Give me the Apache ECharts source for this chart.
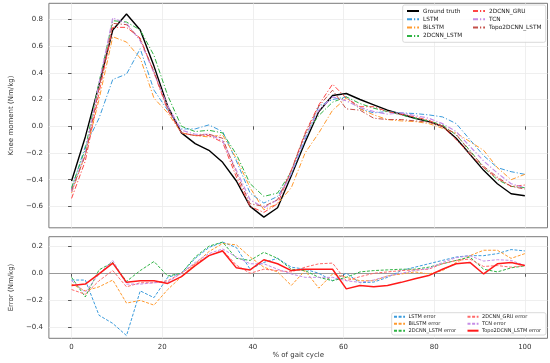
<!DOCTYPE html>
<html><head><meta charset="utf-8">
<script src="https://cdn.jsdelivr.net/npm/echarts@6/dist/echarts.min.js"></script>
<style>html,body{margin:0;padding:0;background:#fff}#c{width:550px;height:363px}</style>
</head><body><div id="c"></div>
<script>
// % of gait cycle (34 samples)
const gaitX = [0, 3.03, 6.06, 9.09, 12.12, 15.15, 18.18, 21.21, 24.24, 27.27, 30.3, 33.33, 36.36, 39.39, 42.42, 45.45, 48.48, 51.52, 54.55, 57.58, 60.61, 63.64, 66.67, 69.7, 72.73, 75.76, 78.79, 81.82, 84.85, 87.88, 90.91, 93.94, 96.97, 100];

// Knee moment (Nm/kg)
const groundTruth = [-0.41, -0.08, 0.31, 0.72, 0.84, 0.72, 0.45, 0.15, -0.05, -0.13, -0.18, -0.27, -0.41, -0.60, -0.68, -0.61, -0.37, -0.12, 0.11, 0.23, 0.245, 0.20, 0.16, 0.12, 0.09, 0.06, 0.035, 0.00, -0.09, -0.21, -0.33, -0.43, -0.505, -0.52];
const lstm = [-0.47, -0.15, 0.06, 0.35, 0.39, 0.58, 0.27, 0.12, -0.02, -0.02, 0.01, -0.04, -0.26, -0.50, -0.575, -0.525, -0.36, -0.10, 0.15, 0.20, 0.22, 0.13, 0.10, 0.11, 0.10, 0.095, 0.085, 0.07, 0.02, -0.10, -0.22, -0.31, -0.34, -0.36];
const bilstm = [-0.50, -0.21, 0.20, 0.67, 0.63, 0.51, 0.21, 0.10, -0.05, -0.07, -0.08, -0.065, -0.24, -0.46, -0.625, -0.58, -0.46, -0.20, -0.05, 0.12, 0.21, 0.13, 0.085, 0.05, 0.04, 0.035, 0.02, -0.015, -0.05, -0.115, -0.18, -0.31, -0.40, -0.36];
const cnnLstm = [-0.46, -0.17, 0.33, 0.79, 0.78, 0.72, 0.53, 0.23, 0.0, -0.04, -0.03, -0.05, -0.21, -0.43, -0.525, -0.50, -0.34, -0.06, 0.08, 0.18, 0.22, 0.17, 0.135, 0.11, 0.085, 0.06, 0.04, 0.01, -0.065, -0.18, -0.31, -0.40, -0.45, -0.46];
const cnnGru = [-0.54, -0.26, 0.25, 0.74, 0.74, 0.66, 0.40, 0.12, -0.05, -0.07, -0.07, -0.12, -0.38, -0.60, -0.645, -0.58, -0.33, -0.05, 0.16, 0.315, 0.21, 0.146, 0.146, 0.11, 0.09, 0.07, 0.045, 0.0, -0.10, -0.21, -0.31, -0.39, -0.45, -0.44];
const tcn = [-0.49, -0.20, 0.32, 0.81, 0.77, 0.64, 0.40, 0.15, -0.03, -0.06, -0.06, -0.11, -0.33, -0.55, -0.61, -0.55, -0.35, -0.08, 0.12, 0.22, 0.19, 0.14, 0.11, 0.09, 0.10, 0.08, 0.06, 0.02, -0.04, -0.15, -0.26, -0.35, -0.43, -0.46];
const topo = [-0.48, -0.22, 0.28, 0.77, 0.76, 0.65, 0.41, 0.13, -0.05, -0.07, -0.06, -0.09, -0.35, -0.58, -0.60, -0.55, -0.33, -0.06, 0.15, 0.27, 0.13, 0.12, 0.06, 0.05, 0.05, 0.04, 0.03, 0.00, -0.06, -0.19, -0.30, -0.38, -0.45, -0.47];

// Error (Nm/kg)
const lstmErr = [-0.05, -0.05, -0.31, -0.37, -0.46, -0.13, -0.18, -0.03, 0.0, 0.11, 0.19, 0.23, 0.19, 0.03, 0.08, 0.11, 0.045, 0.03, 0.0, -0.055, 0.0, -0.07, -0.065, -0.03, 0.02, 0.045, 0.07, 0.095, 0.12, 0.13, 0.13, 0.145, 0.175, 0.165];
const bilstmErr = [-0.08, -0.13, -0.10, -0.05, -0.22, -0.20, -0.235, -0.12, -0.025, 0.07, 0.16, 0.22, 0.21, 0.12, 0.045, 0.01, -0.09, 0.02, -0.11, -0.005, -0.03, -0.055, -0.055, -0.02, -0.005, 0.01, -0.005, 0.02, 0.08, 0.13, 0.17, 0.17, 0.11, 0.145];
const cnnLstmErr = [-0.03, -0.175, 0.025, 0.08, -0.06, 0.02, 0.087, -0.02, 0.0, 0.12, 0.2, 0.23, 0.11, 0.095, 0.155, 0.11, 0.03, 0.02, -0.03, -0.055, -0.03, 0.01, 0.02, 0.025, 0.03, 0.03, 0.045, 0.07, 0.095, 0.12, 0.03, 0.01, 0.04, 0.055];
const cnnGruErr = [-0.12, -0.155, -0.055, 0.02, -0.10, -0.07, -0.07, -0.055, 0.0, 0.07, 0.13, 0.17, 0.06, 0.0, 0.03, 0.02, 0.01, 0.045, 0.07, 0.075, -0.055, -0.025, 0.0, 0.01, 0.02, 0.025, 0.03, 0.07, 0.095, 0.105, 0.05, 0.057, 0.045, 0.057];
const tcnErr = [-0.055, -0.14, -0.005, 0.095, -0.08, -0.08, -0.07, -0.065, 0.0, 0.08, 0.145, 0.18, 0.12, 0.07, 0.07, 0.03, -0.005, -0.03, -0.03, -0.03, -0.055, -0.067, -0.05, -0.02, 0.0, 0.02, 0.035, 0.08, 0.115, 0.13, 0.09, 0.1, 0.095, 0.057];
const topoErr = [-0.09, -0.08, -0.005, 0.075, -0.067, -0.055, -0.055, -0.075, -0.025, 0.057, 0.13, 0.165, 0.04, 0.025, 0.1, 0.07, 0.02, 0.03, 0.03, 0.03, -0.115, -0.09, -0.1, -0.09, -0.067, -0.04, -0.017, 0.03, 0.07, 0.08, -0.005, 0.07, 0.08, 0.057];

// Tick labels
const xTicks = [0, 20, 40, 60, 80, 100];
const yTicksTop = [-0.6, -0.4, -0.2, 0.0, 0.2, 0.4, 0.6, 0.8];
const yTicksBottom = [-0.4, -0.2, 0.0, 0.2];

const FONT = 'DejaVu Sans';
const pair = (ys) => gaitX.map((x, i) => [x, ys[i]]);
const fmt1 = v => (v < 0 ? '\u2212' : '') + Math.abs(v).toFixed(1);
const DASHDOT = [5, 2, 1.2, 2];
const DASH = [3, 1.6];

function predSeries(name, data, color, width) {
  return { name, type: 'line', xAxisIndex: 0, yAxisIndex: 0, data: pair(data), symbol: 'none',
    lineStyle: { color, width: width || 1, type: DASHDOT }, itemStyle: { color }, z: 3 };
}
function errSeries(name, data, color, solid) {
  return { name, type: 'line', xAxisIndex: 1, yAxisIndex: 1, data: pair(data), symbol: 'none',
    lineStyle: { color, width: solid ? 1.5 : 1, type: solid ? 'solid' : DASH }, itemStyle: { color }, z: solid ? 4 : 3 };
}

const C = { lstm: '#3a9bdc', bilstm: '#ff9a2e', cnnLstm: '#2fb344', cnnGru: '#ff4545', tcn: '#c58ce6', topo: '#c4504a',
  gruErr: '#ff6a6a', topoErr: '#ff1a1a' };

const axisCommon = {
  type: 'value', min: -5, max: 105,
  axisLine: { show: false },
  axisTick: { show: true, inside: false, length: 3.5, lineStyle: { color: '#333', width: 0.8 }, customValues: xTicks },
  splitLine: { show: true, lineStyle: { color: '#ebebeb', width: 0.8 } }
};

const legendBase = { orient: 'vertical', padding: 0, selectedMode: false, z: 6,
  itemStyle: { opacity: 0, borderWidth: 0 } };

const option = {
  animation: false,
  backgroundColor: '#fff',
  textStyle: { fontFamily: FONT },
  grid: [
    { left: 35, right: 2.5, top: 3.3, height: 224.5, show: true, borderColor: '#7a7a7a', borderWidth: 1, containLabel: false },
    { left: 35, right: 2.5, top: 236.7, height: 101.6, show: true, borderColor: '#7a7a7a', borderWidth: 1, containLabel: false }
  ],
  xAxis: [
    Object.assign({}, axisCommon, { gridIndex: 0, axisLabel: { show: false, customValues: xTicks } }),
    Object.assign({}, axisCommon, { gridIndex: 1,
      axisLabel: { show: true, customValues: xTicks, fontSize: 7, color: '#333', fontFamily: FONT, margin: 5 },
      name: '% of gait cycle', nameLocation: 'middle', nameGap: 13,
      nameTextStyle: { fontSize: 7, color: '#333', fontFamily: FONT } })
  ],
  yAxis: [
    { type: 'value', gridIndex: 0, min: -0.76, max: 0.92,
      axisLine: { show: false },
      axisTick: { show: true, length: 3.5, lineStyle: { color: '#333', width: 0.8 }, customValues: yTicksTop },
      axisLabel: { customValues: yTicksTop, formatter: fmt1, fontSize: 7, color: '#333', fontFamily: FONT, margin: 6 },
      splitLine: { show: true, lineStyle: { color: '#ebebeb', width: 0.8 } },
      name: 'Knee moment (Nm/kg)', nameLocation: 'middle', nameGap: 21,
      nameTextStyle: { fontSize: 7, color: '#333', fontFamily: FONT } },
    { type: 'value', gridIndex: 1, min: -0.48, max: 0.27,
      axisLine: { show: false },
      axisTick: { show: true, length: 3.5, lineStyle: { color: '#333', width: 0.8 }, customValues: yTicksBottom },
      axisLabel: { customValues: yTicksBottom, formatter: fmt1, fontSize: 7, color: '#333', fontFamily: FONT, margin: 6 },
      splitLine: { show: true, lineStyle: { color: '#ebebeb', width: 0.8 } },
      name: 'Error (Nm/kg)', nameLocation: 'middle', nameGap: 21,
      nameTextStyle: { fontSize: 7, color: '#333', fontFamily: FONT } }
  ],
  graphic: [
    { type: 'rect', shape: { x: 402.7, y: 5, width: 143, height: 37.3, r: 2 }, style: { fill: 'rgba(255,255,255,0.85)', stroke: '#d0d0d0', lineWidth: 0.8 }, z: 5 },
    { type: 'rect', shape: { x: 391.7, y: 312.7, width: 154.3, height: 22.3, r: 2 }, style: { fill: 'rgba(255,255,255,0.85)', stroke: '#d0d0d0', lineWidth: 0.8 }, z: 5 }
  ],
  legend: [
    Object.assign({}, legendBase, { data: ['Ground truth', 'LSTM', 'BiLSTM', '2DCNN_LSTM'], left: 406, top: 8,
      itemWidth: 12, itemHeight: 6, itemGap: 2.3,
      textStyle: { fontSize: 5.8, color: '#222', fontFamily: FONT, padding: [0, 0, 0, -1] } }),
    Object.assign({}, legendBase, { data: ['2DCNN_GRU', 'TCN', 'Topo2DCNN_LSTM'], left: 472, top: 8,
      itemWidth: 12, itemHeight: 6, itemGap: 2.3,
      textStyle: { fontSize: 5.8, color: '#222', fontFamily: FONT, padding: [0, 0, 0, -1] } }),
    Object.assign({}, legendBase, { data: ['LSTM error', 'BiLSTM error', '2DCNN_LSTM error'], left: 393, top: 314.2,
      itemWidth: 11, itemHeight: 5, itemGap: 2,
      textStyle: { fontSize: 5, color: '#222', fontFamily: FONT, padding: [0, 0, 0, -1.5] } }),
    Object.assign({}, legendBase, { data: ['2DCNN_GRU error', 'TCN error', 'Topo2DCNN_LSTM error'], left: 466.5, top: 314.2,
      itemWidth: 11, itemHeight: 5, itemGap: 2,
      textStyle: { fontSize: 5, color: '#222', fontFamily: FONT, padding: [0, 0, 0, -1.5] } })
  ],
  series: [
    { name: 'Ground truth', type: 'line', xAxisIndex: 0, yAxisIndex: 0, data: pair(groundTruth), symbol: 'none',
      lineStyle: { color: '#000', width: 1.4 }, itemStyle: { color: '#000' }, z: 3 },
    predSeries('LSTM', lstm, C.lstm),
    predSeries('BiLSTM', bilstm, C.bilstm),
    predSeries('2DCNN_LSTM', cnnLstm, C.cnnLstm),
    predSeries('2DCNN_GRU', cnnGru, C.cnnGru),
    predSeries('TCN', tcn, C.tcn, 1.2),
    predSeries('Topo2DCNN_LSTM', topo, C.topo),
    Object.assign(errSeries('LSTM error', lstmErr, C.lstm), {
      markLine: { silent: true, symbol: 'none', label: { show: false }, lineStyle: { color: '#999', width: 1, type: 'solid' }, data: [{ yAxis: 0 }], z: 2 } }),
    errSeries('BiLSTM error', bilstmErr, C.bilstm),
    errSeries('2DCNN_LSTM error', cnnLstmErr, C.cnnLstm),
    errSeries('2DCNN_GRU error', cnnGruErr, C.gruErr),
    errSeries('TCN error', tcnErr, C.tcn),
    errSeries('Topo2DCNN_LSTM error', topoErr, C.topoErr, true)
  ]
};
echarts.init(document.getElementById('c'), null, { renderer: 'canvas' }).setOption(option);
</script></body></html>
